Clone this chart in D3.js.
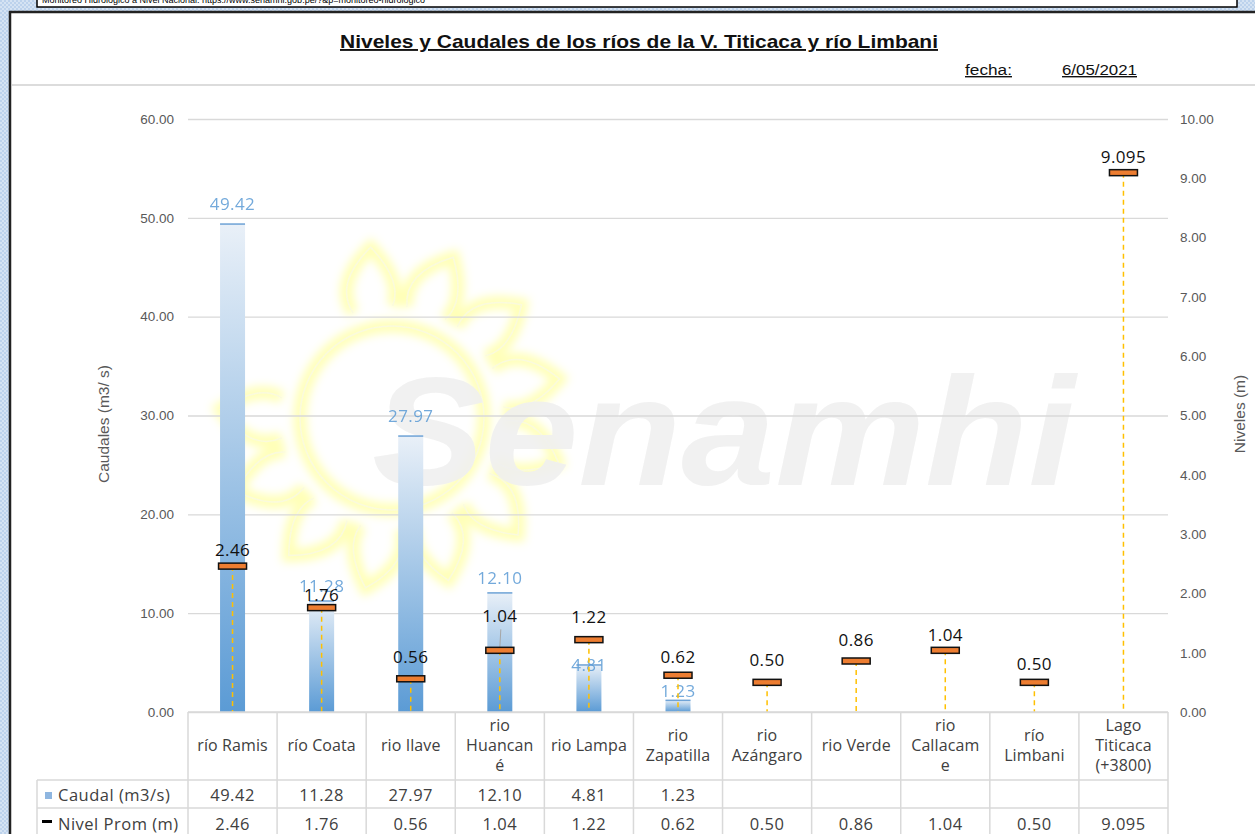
<!DOCTYPE html>
<html>
<head>
<meta charset="utf-8">
<script src="https://cdn.jsdelivr.net/npm/d3@7"></script>
<style>
  body { margin: 0; background: #fff; }
  svg { display: block; }
</style>
</head>
<body>
<svg id="chart" width="1255" height="834"></svg>
<script>
// datos
var categorias = ['río Ramis', 'río Coata', 'rio Ilave', 'rio Huancané', 'rio Lampa', 'rio Zapatilla',
  'rio Azángaro', 'rio Verde', 'rio Callacame', 'río Limbani', 'Lago Titicaca (+3800)'];
var etiquetas = [['río Ramis'], ['río Coata'], ['rio Ilave'], ['rio', 'Huancan', 'é'], ['rio Lampa'],
  ['rio', 'Zapatilla'], ['rio', 'Azángaro'], ['rio Verde'], ['rio', 'Callacam', 'e'], ['río', 'Limbani'],
  ['Lago', 'Titicaca', '(+3800)']];
var caudal = [49.42, 11.28, 27.97, 12.10, 4.81, 1.23, null, null, null, null, null];
var nivel = [2.46, 1.76, 0.56, 1.04, 1.22, 0.62, 0.50, 0.86, 1.04, 0.50, 9.095];
var nivelTxt = ['2.46', '1.76', '0.56', '1.04', '1.22', '0.62', '0.50', '0.86', '1.04', '0.50', '9.095'];
var ticksCaudal = [0, 10, 20, 30, 40, 50, 60];
var ticksNivel = [0, 1, 2, 3, 4, 5, 6, 7, 8, 9, 10];

// desplazamientos de etiquetas (movidas a mano en el original)
var despQ = [0, 5, 0, 6, 21, 11];
var despN = [0, 3, -6, -18, -7, -2, -6, -5, 1, -2, 0];

var svg = d3.select('svg#chart');
var W = 1255, H = 834;
var xIzq = 188, xDer = 1168, yTope = 119, yBase = 712;

var x = d3.scaleBand().domain(categorias).range([xIzq, xDer]).padding(0);
var yL = d3.scaleLinear().domain([0, 60]).range([yBase, yTope]);
var yR = d3.scaleLinear().domain([0, 10]).range([yBase, yTope]);
function cx(d) { return x(d.cat) + x.bandwidth() / 2; }

var defs = svg.append('defs');

var pat = defs.append('pattern')
  .attr('id', 'fondo')
  .attr('width', 4).attr('height', 4)
  .attr('patternUnits', 'userSpaceOnUse');
pat.append('rect').attr('width', 4).attr('height', 4).attr('fill', '#d5e3f3');
pat.append('rect').attr('width', 2).attr('height', 2).attr('fill', '#bcd2ec');
pat.append('rect').attr('x', 2).attr('y', 2).attr('width', 2).attr('height', 2).attr('fill', '#bcd2ec');

var grad = defs.append('linearGradient')
  .attr('id', 'barra')
  .attr('x1', 0).attr('y1', 0).attr('x2', 0).attr('y2', 1);
grad.append('stop').attr('offset', '0%').attr('stop-color', '#e9f0f8');
grad.append('stop').attr('offset', '100%').attr('stop-color', '#5b9bd5');

defs.append('filter')
  .attr('id', 'brillo')
  .attr('x', '-20%').attr('y', '-20%').attr('width', '140%').attr('height', '140%')
  .append('feGaussianBlur')
  .attr('stdDeviation', 5);

// fondo
svg.append('rect').attr('width', W).attr('height', H).attr('fill', 'url(#fondo)');
svg.append('rect')
  .attr('x', 10).attr('y', 12)
  .attr('width', W - 10).attr('height', H - 12)
  .attr('fill', '#fff');
svg.append('path')
  .attr('d', 'M10,' + H + 'V12H' + W)
  .attr('fill', 'none')
  .attr('stroke', '#222')
  .attr('stroke-width', 2.5);

// cuadro superior (cortado)
svg.append('rect')
  .attr('x', 37).attr('y', -12)
  .attr('width', 1200).attr('height', 19)
  .attr('fill', '#fff')
  .attr('stroke', '#000')
  .attr('stroke-width', 1.5);
svg.append('text')
  .attr('x', 42).attr('y', 3)
  .style('font-family', 'Liberation Sans')
  .style('font-size', '9px')
  .text('Monitoreo Hidrológico a Nivel Nacional: https://www.senamhi.gob.pe/?&p=monitoreo-hidrologico');

// titulo
svg.append('text')
  .attr('x', 639).attr('y', 48)
  .attr('text-anchor', 'middle')
  .attr('textLength', 598)
  .attr('lengthAdjust', 'spacingAndGlyphs')
  .style('font-family', 'Liberation Sans')
  .style('font-weight', 'bold')
  .style('font-size', '19px')
  .style('text-decoration', 'underline')
  .attr('fill', '#111')
  .text('Niveles y Caudales de los ríos de la V. Titicaca y río Limbani');

svg.append('text')
  .attr('x', 965).attr('y', 75)
  .attr('textLength', 47)
  .attr('lengthAdjust', 'spacingAndGlyphs')
  .style('font-family', 'Liberation Sans')
  .style('font-size', '14px')
  .style('text-decoration', 'underline')
  .attr('fill', '#111')
  .text('fecha:');
svg.append('text')
  .attr('x', 1062).attr('y', 75)
  .attr('textLength', 75)
  .attr('lengthAdjust', 'spacingAndGlyphs')
  .style('font-family', 'Liberation Sans')
  .style('font-size', '14px')
  .style('text-decoration', 'underline')
  .attr('fill', '#111')
  .text('6/05/2021');

svg.append('line')
  .attr('x1', 12).attr('x2', W)
  .attr('y1', 85).attr('y2', 85)
  .attr('stroke', '#dcdcdc')
  .attr('stroke-width', 2);

// marca de agua: sol
var sol = svg.append('g').attr('transform', 'translate(392,418)');
var rayos = d3.range(11).map(function (i) { return -100 + i * 28; });
function rayo(a) {
  var r0 = 112, r1 = 172, w = 0.18;
  var p = d3.path();
  var t = a * Math.PI / 180;
  function pt(r, ang) { return [r * Math.cos(ang), r * Math.sin(ang)]; }
  var a0 = pt(r0, t - w), a1 = pt(r0, t + w), tip = pt(r1, t + 0.05);
  var c0 = pt(r1 * 0.85, t - w * 1.3), c1 = pt(r1 * 0.8, t + w * 1.4);
  p.moveTo(a0[0], a0[1]);
  p.quadraticCurveTo(c0[0], c0[1], tip[0], tip[1]);
  p.quadraticCurveTo(c1[0], c1[1], a1[0], a1[1]);
  return p.toString();
}
[{ c: '#ffff70', w: 13, f: 'url(#brillo)', o: 0.5 }, { c: '#fafae0', w: 1.5, f: null, o: 0.9 }].forEach(function (s) {
  var g = sol.append('g')
    .attr('fill', 'none')
    .attr('stroke', s.c)
    .attr('stroke-width', s.w)
    .attr('opacity', s.o)
    .attr('filter', s.f);
  g.append('circle').attr('r', 92);
  g.selectAll('path.rayo')
    .data(rayos)
    .enter()
    .append('path')
    .attr('class', 'rayo')
    .attr('d', rayo);
});

svg.append('text')
  .attr('x', 372).attr('y', 485)
  .attr('textLength', 703)
  .attr('lengthAdjust', 'spacingAndGlyphs')
  .style('font-family', 'Liberation Sans')
  .style('font-weight', 'bold')
  .style('font-style', 'italic')
  .style('font-size', '154px')
  .attr('fill', '#f0f0f0')
  .attr('opacity', 0.9)
  .text('Senamhi');

// rejilla
svg.append('g')
  .attr('transform', 'translate(' + xIzq + ',0)')
  .call(d3.axisLeft(yL).tickValues(ticksCaudal).tickSize(-(xDer - xIzq)).tickFormat(''))
  .call(function (g) {
    g.select('.domain').remove();
    g.selectAll('line').attr('stroke', '#d9d9d9').attr('stroke-width', 1.3);
  });

// ejes
svg.append('g')
  .attr('transform', 'translate(' + xIzq + ',0)')
  .call(d3.axisLeft(yL).tickValues(ticksCaudal).tickSize(0).tickPadding(14).tickFormat(d3.format('.2f')))
  .call(function (g) {
    g.select('.domain').remove();
    g.selectAll('text')
      .attr('fill', '#595959')
      .style('font-family', 'Liberation Sans')
      .style('font-size', '13.5px');
  });

svg.append('g')
  .attr('transform', 'translate(' + xDer + ',0)')
  .call(d3.axisRight(yR).tickValues(ticksNivel).tickSize(0).tickPadding(12).tickFormat(d3.format('.2f')))
  .call(function (g) {
    g.select('.domain').remove();
    g.selectAll('text')
      .attr('fill', '#595959')
      .style('font-family', 'Liberation Sans')
      .style('font-size', '13.5px');
  });

svg.append('text')
  .attr('transform', 'translate(109,424) rotate(-90)')
  .attr('text-anchor', 'middle')
  .attr('fill', '#595959')
  .style('font-family', 'Liberation Sans')
  .style('font-size', '15.5px')
  .text('Caudales (m3/ s)');

svg.append('text')
  .attr('transform', 'translate(1245,414) rotate(-90)')
  .attr('text-anchor', 'middle')
  .attr('fill', '#595959')
  .style('font-family', 'Liberation Sans')
  .style('font-size', '15.5px')
  .text('Niveles (m)');

// barras de caudal
var datos = categorias.map(function (c, i) {
  return { cat: c, i: i, q: caudal[i], n: nivel[i], nt: nivelTxt[i], lab: etiquetas[i] };
});
var bw = 25;
var conQ = datos.filter(function (d) { return d.q != null; });

svg.selectAll('rect.barra')
  .data(conQ)
  .enter()
  .append('rect')
  .attr('class', 'barra')
  .attr('x', function (d) { return cx(d) - bw / 2; })
  .attr('y', function (d) { return yL(d.q); })
  .attr('width', bw)
  .attr('height', function (d) { return yBase - yL(d.q); })
  .attr('fill', 'url(#barra)');

svg.selectAll('line.tope')
  .data(conQ)
  .enter()
  .append('line')
  .attr('class', 'tope')
  .attr('x1', function (d) { return cx(d) - bw / 2; })
  .attr('x2', function (d) { return cx(d) + bw / 2; })
  .attr('y1', function (d) { return yL(d.q) + 0.5; })
  .attr('y2', function (d) { return yL(d.q) + 0.5; })
  .attr('stroke', '#6fa3d6')
  .attr('stroke-width', 1.5);

svg.selectAll('text.q')
  .data(conQ)
  .enter()
  .append('text')
  .attr('class', 'q')
  .attr('x', cx)
  .attr('y', function (d) { return yL(d.q) - 14 + despQ[d.i]; })
  .attr('text-anchor', 'middle')
  .attr('fill', '#5b9bd5')
  .attr('opacity', 0.85)
  .style('font-family', 'Open Sans')
  .style('font-size', '17px')
  .style('letter-spacing', '0.4px')
  .text(function (d) { return d3.format('.2f')(d.q); });

// niveles: lineas de caida, marcadores
svg.selectAll('line.caida')
  .data(datos)
  .enter()
  .append('line')
  .attr('class', 'caida')
  .attr('x1', cx)
  .attr('x2', cx)
  .attr('y1', function (d) { return yR(d.n); })
  .attr('y2', yBase)
  .attr('stroke', '#ffc000')
  .attr('stroke-width', 1.5)
  .attr('stroke-dasharray', '5,4');

// linea guia de la etiqueta desplazada (Huancané)
svg.selectAll('line.guia')
  .data(datos.filter(function (d) { return despN[d.i] < -15; }))
  .enter()
  .append('line')
  .attr('class', 'guia')
  .attr('x1', function (d) { return cx(d) + 1; })
  .attr('x2', cx)
  .attr('y1', function (d) { return yR(d.n) - 21; })
  .attr('y2', function (d) { return yR(d.n) - 3; })
  .attr('stroke', '#a6a6a6')
  .attr('stroke-width', 1);

svg.selectAll('rect.nivel')
  .data(datos)
  .enter()
  .append('rect')
  .attr('class', 'nivel')
  .attr('x', function (d) { return cx(d) - 14; })
  .attr('y', function (d) { return yR(d.n) - 3; })
  .attr('width', 28)
  .attr('height', 6)
  .attr('fill', '#ed7d31')
  .attr('stroke', '#111')
  .attr('stroke-width', 1.5);

svg.selectAll('text.n')
  .data(datos)
  .enter()
  .append('text')
  .attr('class', 'n')
  .attr('x', cx)
  .attr('y', function (d) { return yR(d.n) - 10 + despN[d.i]; })
  .attr('text-anchor', 'middle')
  .attr('fill', '#111')
  .style('font-family', 'Open Sans')
  .style('font-size', '17px')
  .style('letter-spacing', '0.4px')
  .text(function (d) { return d.nt; });

// tabla de datos
var filas = [780, 808, 836];
var tabla = svg.append('g')
  .attr('stroke', '#d9d9d9')
  .attr('stroke-width', 1.5);
tabla.append('line').attr('x1', xIzq).attr('x2', xDer).attr('y1', yBase).attr('y2', yBase);
filas.forEach(function (fy) {
  tabla.append('line').attr('x1', 37).attr('x2', xDer).attr('y1', fy).attr('y2', fy);
});
tabla.selectAll('line.col')
  .data(categorias)
  .enter()
  .append('line')
  .attr('x1', function (d) { return x(d); })
  .attr('x2', function (d) { return x(d); })
  .attr('y1', yBase).attr('y2', H);
tabla.append('line').attr('x1', xDer).attr('x2', xDer).attr('y1', yBase).attr('y2', H);
tabla.append('line').attr('x1', 37).attr('x2', 37).attr('y1', 780).attr('y2', H);

var celdas = svg.append('g')
  .attr('fill', '#404040')
  .style('font-family', 'Open Sans')
  .style('font-size', '16.5px')
  .style('letter-spacing', '0.5px')
  .attr('text-anchor', 'middle');

celdas.selectAll('text.cat')
  .data(datos)
  .enter()
  .append('text')
  .attr('class', 'cat')
  .attr('x', cx)
  .attr('y', function (d) { return 751 - (d.lab.length - 1) * 10; })
  .style('font-size', '16px')
  .style('letter-spacing', '0.1px')
  .each(function (d) {
    var t = d3.select(this);
    d.lab.forEach(function (l, i) {
      t.append('tspan')
        .attr('x', cx(d))
        .attr('dy', i === 0 ? 0 : 20)
        .text(l);
    });
  });

celdas.selectAll('text.vq')
  .data(conQ)
  .enter()
  .append('text')
  .attr('class', 'vq')
  .attr('x', cx)
  .attr('y', 801)
  .text(function (d) { return d3.format('.2f')(d.q); });

celdas.selectAll('text.vn')
  .data(datos)
  .enter()
  .append('text')
  .attr('class', 'vn')
  .attr('x', cx)
  .attr('y', 830)
  .text(function (d) { return d.nt; });

// leyenda en la tabla
svg.append('rect')
  .attr('x', 45).attr('y', 792)
  .attr('width', 7).attr('height', 7)
  .attr('fill', '#8fb6e0');
svg.append('rect')
  .attr('x', 42).attr('y', 820)
  .attr('width', 10).attr('height', 3)
  .attr('fill', '#000');
celdas.append('text')
  .attr('x', 58).attr('y', 801)
  .attr('text-anchor', 'start')
  .text('Caudal (m3/s)');
celdas.append('text')
  .attr('x', 58).attr('y', 830)
  .attr('text-anchor', 'start')
  .text('Nivel Prom (m)');
</script>
</body>
</html>
